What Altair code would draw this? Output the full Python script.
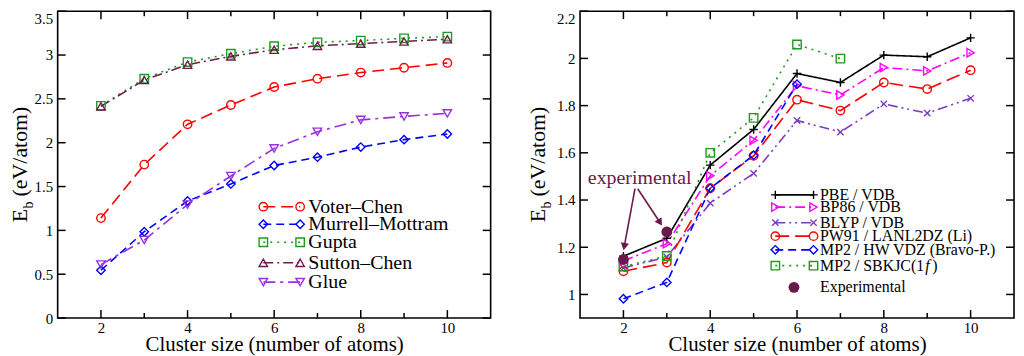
import math
import altair as alt
import pandas as pd

SERIF = "Liberation Serif"
X = [2, 3, 4, 5, 6, 7, 8, 9, 10]

# ---------------- left panel (empirical potentials) ----------------
L_NAMES = ["Voter–Chen", "Murrell–Mottram", "Gupta", "Sutton–Chen", "Glue"]
voter_chen = [1.14, 1.75, 2.21, 2.43, 2.635, 2.73, 2.80, 2.855, 2.91]
murrell_mottram = [0.545, 0.985, 1.335, 1.53, 1.74, 1.835, 1.95, 2.035, 2.10]
gupta = [2.42, 2.73, 2.92, 3.015, 3.10, 3.145, 3.165, 3.19, 3.21]
sutton_chen = [2.415, 2.715, 2.89, 2.985, 3.06, 3.105, 3.13, 3.155, 3.18]
glue = [0.61, 0.89, 1.295, 1.62, 1.935, 2.125, 2.26, 2.30, 2.335]
L_COLORS = ["#ff0000", "#0000ff", "#1f9a1f", "#701a50", "#9a30e0"]
L_SHAPES = ["circle", "diamond", "square", "triangle-up", "triangle-down"]
L_DASHES = [[12, 6], [8, 5], [2, 5], [10, 4, 2, 4], [12, 5, 3, 5]]
L_LEG_X = [5.75, 6.6]
L_LEG_TEXT_X = 6.79
L_LEG_Y = [1.27, 1.07, 0.865, 0.63, 0.41]
L_YTICKS = [0, 0.5, 1, 1.5, 2, 2.5, 3, 3.5]

# ---------------- right panel (DFT / MP2) ----------------
R_NAMES = ["PBE / VDB", "BP86 / VDB", "BLYP / VDB", "PW91 / LANL2DZ (Li)",
           "MP2 / HW VDZ (Bravo-P.)", "MP2 / SBKJC(1f)"]
R_LABELS = ["PBE / VDB", "BP86 / VDB", "BLYP / VDB", "PW91 / LANL2DZ (Li)",
            "MP2 / HW VDZ (Bravo-P.)", "MP2 / SBKJC(1"]
pbe_vdb = [1.162, 1.238, 1.548, 1.699, 1.936, 1.898, 2.014, 2.007, 2.087]
bp86_vdb = [1.142, 1.215, 1.503, 1.653, 1.884, 1.845, 1.961, 1.947, 2.024]
blyp_vdb = [1.112, 1.159, 1.387, 1.513, 1.737, 1.688, 1.807, 1.768, 1.831]
pw91_lanl2dz = [1.098, 1.135, 1.45, 1.587, 1.825, 1.779, 1.898, 1.87, 1.95]
mp2_hw_x = [2, 3, 4, 5, 6]
mp2_hw = [0.982, 1.051, 1.45, 1.59, 1.891]
mp2_sbkjc_x = [2, 3, 4, 5, 6, 7]
mp2_sbkjc = [1.118, 1.163, 1.60, 1.748, 2.059, 1.999]
exp_x = [2, 3]
exp_y = [1.148, 1.265]
R_COLORS = ["#000000", "#ff00ff", "#7a3cc4", "#ff0000", "#0000ff", "#1f9a1f"]
PLUS = "M-1,0L1,0M0,-1L0,1"
XMARK = "M-0.75,-0.75L0.75,0.75M-0.75,0.75L0.75,-0.75"
R_SHAPES = [PLUS, "triangle-right", XMARK, "circle", "diamond", "square"]
R_DASHES = [[1, 0], [10, 4, 2, 4], [10, 4, 2, 4, 2, 4], [14, 6], [8, 5], [2, 5]]
R_LEG_X = [5.5, 6.38]
R_LEG_TEXT_X = 6.53
R_LEG_Y = [1.422, 1.370, 1.304, 1.247, 1.189, 1.122]
R_EXP_LEG = (5.93, 1.030)
R_EXP_TEXT_X = 6.53
R_YTICKS = [1, 1.2, 1.4, 1.6, 1.8, 2, 2.2]
EXP_COLOR = "#6a1a4a"
ANN_TEXT = ("experimental", 1.18, 1.466)
ARROW_START_X = [2.267, 2.329]
ARROW_START_Y = [1.448, 1.448]
ARROW_END_X = [2.0, 2.9]
ARROW_END_Y = [1.184, 1.289]

H = 309
WL, WR = 436, 437


def one():
    return pd.DataFrame({"k": [0]})


def panel(series, names, labels, colors, shapes, dashes, leg_x, leg_y, leg_tx,
          leg_fs, W, ydom, yvals, top_val, title_xb, extras_fn=None):
    rows = []
    for name, xs, ys in series:
        for a, b in zip(xs, ys):
            rows.append({"s": name, "g": name + "|d", "x": a, "y": b})
    for name, ly in zip(names, leg_y):
        for a in leg_x:
            rows.append({"s": name, "g": name + "|l", "x": a, "y": ly})
    df = pd.DataFrame(rows)

    xsc = alt.Scale(domain=[1, 11], nice=False, zero=False)
    ysc = alt.Scale(domain=ydom, nice=False, zero=False)
    xax = alt.Axis(values=[2, 4, 6, 8, 10], format="d", grid=False, ticks=False,
                   tickSize=0, domain=False, labelFont=SERIF, labelFontSize=15,
                   labelColor="black", labelPadding=3,
                   title="Cluster size (number of atoms)", titleFont=SERIF,
                   titleFontSize=21, titleFontWeight="normal", titleColor="black",
                   titlePadding=-2)
    yax = alt.Axis(values=yvals, format="~g", grid=False, ticks=False, tickSize=0,
                   domain=False, labelFont=SERIF, labelFontSize=15,
                   labelColor="black", labelPadding=5, title=None,
                   labelBaseline={"condition": {"test": f"datum.value >= {top_val}",
                                                "value": "top"}, "value": "middle"})

    def XE(f):
        return alt.X(f, type="quantitative", scale=xsc, axis=xax)

    def YE(f):
        return alt.Y(f, type="quantitative", scale=ysc, axis=yax)

    col = alt.Color("s:N", scale=alt.Scale(domain=names, range=colors), legend=None)
    lines = alt.Chart(df).mark_line(strokeWidth=1.6).encode(
        x=XE("x"), y=YE("y"), color=col,
        strokeDash=alt.StrokeDash("s:N", scale=alt.Scale(domain=names, range=dashes),
                                  legend=None),
        detail="g:N", order="x:Q")
    pts = alt.Chart(df).mark_point(filled=False, strokeWidth=1.4, size=72, opacity=1).encode(
        x=XE("x"), y=YE("y"), color=col,
        shape=alt.Shape("s:N", scale=alt.Scale(domain=names, range=shapes), legend=None))
    ltxt = alt.Chart(pd.DataFrame({"x": [leg_tx] * len(labels), "y": leg_y, "t": labels})).mark_text(
        align="left", baseline="middle", font=SERIF, fontSize=leg_fs, color="black").encode(
        x=XE("x"), y=YE("y"), text="t:N")

    # inward ticks on all four sides
    xt_major = pd.DataFrame({"v": [2, 4, 6, 8, 10]})
    xt_minor = pd.DataFrame({"v": [3, 5, 7, 9]})
    yt = pd.DataFrame({"v": yvals})
    tick_layers = []
    for d, ln in ((xt_major, 8), (xt_minor, 5)):
        tick_layers.append(alt.Chart(d).mark_rule(color="black", strokeWidth=1.5).encode(
            x=XE("v"), y=alt.value(H), y2=alt.value(H - ln)))
        tick_layers.append(alt.Chart(d).mark_rule(color="black", strokeWidth=1.5).encode(
            x=XE("v"), y=alt.value(0), y2=alt.value(ln)))
    tick_layers.append(alt.Chart(yt).mark_rule(color="black", strokeWidth=1.5).encode(
        y=YE("v"), x=alt.value(0), x2=alt.value(8)))
    tick_layers.append(alt.Chart(yt).mark_rule(color="black", strokeWidth=1.5).encode(
        y=YE("v"), x=alt.value(W), x2=alt.value(W - 8)))

    # y axis title  E_b (eV/atom)
    ye = H / 2 + 58
    t1 = alt.Chart(one()).mark_text(text="E", angle=270, align="left", baseline="alphabetic",
                                    font=SERIF, fontSize=22, color="black").encode(
        x=alt.value(title_xb), y=alt.value(ye))
    t2 = alt.Chart(one()).mark_text(text="b", angle=270, align="left", baseline="alphabetic",
                                    font=SERIF, fontSize=14, color="black").encode(
        x=alt.value(title_xb + 6), y=alt.value(ye - 13.8))
    t3 = alt.Chart(one()).mark_text(text="(eV/atom)", angle=270, align="left",
                                    baseline="alphabetic", font=SERIF, fontSize=22,
                                    color="black").encode(
        x=alt.value(title_xb), y=alt.value(ye - 26))

    layers = [lines, pts, ltxt] + tick_layers + [t1, t2, t3]
    if extras_fn is not None:
        layers += extras_fn(XE, YE, W)
    return alt.layer(*layers).properties(width=W, height=H)


def right_extras(XE, YE, W):
    out = []
    # experimental points + legend dot
    exp_df = pd.DataFrame({"x": exp_x + [R_EXP_LEG[0]], "y": exp_y + [R_EXP_LEG[1]]})
    out.append(alt.Chart(exp_df).mark_circle(size=120, opacity=1, color=EXP_COLOR).encode(
        x=XE("x"), y=YE("y")))
    out.append(alt.Chart(pd.DataFrame({"x": [R_EXP_TEXT_X], "y": [R_EXP_LEG[1]],
                                       "t": ["Experimental"]})).mark_text(
        align="left", baseline="middle", font=SERIF, fontSize=16, color="black").encode(
        x=XE("x"), y=YE("y"), text="t:N"))
    # italic f and closing paren of "MP2 / SBKJC(1f)"
    ly = R_LEG_Y[-1]
    out.append(alt.Chart(pd.DataFrame({"x": [R_LEG_TEXT_X], "y": [ly], "t": ["f"]})).mark_text(
        align="left", baseline="middle", font=SERIF, fontSize=16, fontStyle="italic",
        color="black", dx=106).encode(x=XE("x"), y=YE("y"), text="t:N"))
    out.append(alt.Chart(pd.DataFrame({"x": [R_LEG_TEXT_X], "y": [ly], "t": [")"]})).mark_text(
        align="left", baseline="middle", font=SERIF, fontSize=16, color="black",
        dx=113).encode(x=XE("x"), y=YE("y"), text="t:N"))
    # annotation text
    out.append(alt.Chart(pd.DataFrame({"x": [ANN_TEXT[1]], "y": [ANN_TEXT[2]],
                                       "t": [ANN_TEXT[0]]})).mark_text(
        align="left", baseline="alphabetic", font=SERIF, fontSize=20, color=EXP_COLOR).encode(
        x=XE("x"), y=YE("y"), text="t:N"))
    # arrows
    pxx = W / 10.0
    pxy = H / 1.3
    rows = []
    for x0, y0, x1, y1 in zip(ARROW_START_X, ARROW_START_Y, ARROW_END_X, ARROW_END_Y):
        dx = (x1 - x0) * pxx
        dy = -(y1 - y0) * pxy
        L = math.hypot(dx, dy)
        back = 4.5
        cx = x1 - (dx / L * back) / pxx
        cy = y1 + (dy / L * back) / pxy
        ang = math.degrees(math.atan2(dx, -dy)) % 360
        rows.append({"x0": x0, "y0": y0, "x1": cx, "y1": cy, "ang": ang})
    adf = pd.DataFrame(rows)
    out.append(alt.Chart(adf).mark_rule(color=EXP_COLOR, strokeWidth=1.6).encode(
        x=XE("x0"), y=YE("y0"), x2="x1:Q", y2="y1:Q"))
    out.append(alt.Chart(adf).mark_point(shape="triangle-up", filled=True, size=70,
                                         opacity=1, color=EXP_COLOR).encode(
        x=XE("x1"), y=YE("y1"), angle=alt.Angle("ang:Q", scale=None)))
    return out


left_series = [(n, X, v) for n, v in zip(L_NAMES, [voter_chen, murrell_mottram, gupta,
                                                   sutton_chen, glue])]
right_series = [(R_NAMES[0], X, pbe_vdb), (R_NAMES[1], X, bp86_vdb),
                (R_NAMES[2], X, blyp_vdb), (R_NAMES[3], X, pw91_lanl2dz),
                (R_NAMES[4], mp2_hw_x, mp2_hw), (R_NAMES[5], mp2_sbkjc_x, mp2_sbkjc)]

left = panel(left_series, L_NAMES, L_NAMES, L_COLORS, L_SHAPES, L_DASHES, L_LEG_X, L_LEG_Y,
             L_LEG_TEXT_X, 20, WL, [0, 3.5], L_YTICKS, 3.4, -30.5)
right = panel(right_series, R_NAMES, R_LABELS, R_COLORS, R_SHAPES, R_DASHES, R_LEG_X,
              R_LEG_Y, R_LEG_TEXT_X, 16, WR, [0.9, 2.2], R_YTICKS, 2.15, -35,
              extras_fn=right_extras)

chart = alt.hconcat(left, right, spacing=90, bounds="flush").resolve_scale(
    color="independent", shape="independent", strokeDash="independent",
    x="independent", y="independent").properties(
    padding=0).configure_view(stroke="black", strokeWidth=1.6)

chart.save("out.html", embed_options={"renderer": "svg", "actions": False})
